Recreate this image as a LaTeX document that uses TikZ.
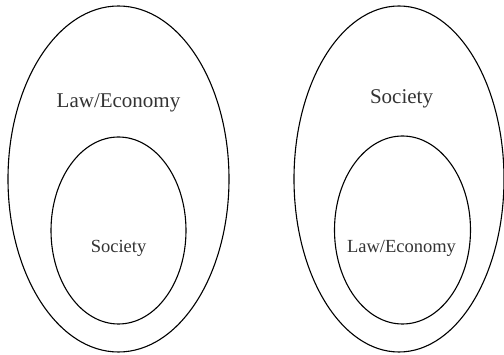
\documentclass[tikz,border=0pt]{standalone}
\usepackage{fontspec}
\setmainfont{Liberation Serif}
\usetikzlibrary{shapes.geometric}

\tikzset{
    ring/.style={draw, ellipse, line width=1.1pt, inner sep=0pt},
    biglabel/.style={text=black!80, font=\fontsize{21}{24}\selectfont},
    smalllabel/.style={text=black!80, font=\fontsize{18.5}{21}\selectfont}
}

\begin{document}
\begin{tikzpicture}[x=1pt, y=-1pt]
    \useasboundingbox (0,0) rectangle (504,355);

    % left pair: society inside law/economy
    \node[ring, minimum width=221, minimum height=346] (lout) at (118.5,179) {};
    \node[ring, minimum width=135, minimum height=187] (lin) at (118.5,230.5) {};
    \node[biglabel] (llaw) at (118.5,103) {Law/Economy};
    \node[smalllabel] (lsoc) at (118.5,248) {Society};

    % right pair: law/economy inside society
    \node[ring, minimum width=210, minimum height=346] (rout) at (399,179) {};
    \node[ring, minimum width=136, minimum height=188] (rin) at (402.5,230) {};
    \node[biglabel] (rsoc) at (401.5,99) {Society};
    \node[smalllabel] (rlaw) at (401.5,248) {Law/Economy};

\end{tikzpicture}
\end{document}
